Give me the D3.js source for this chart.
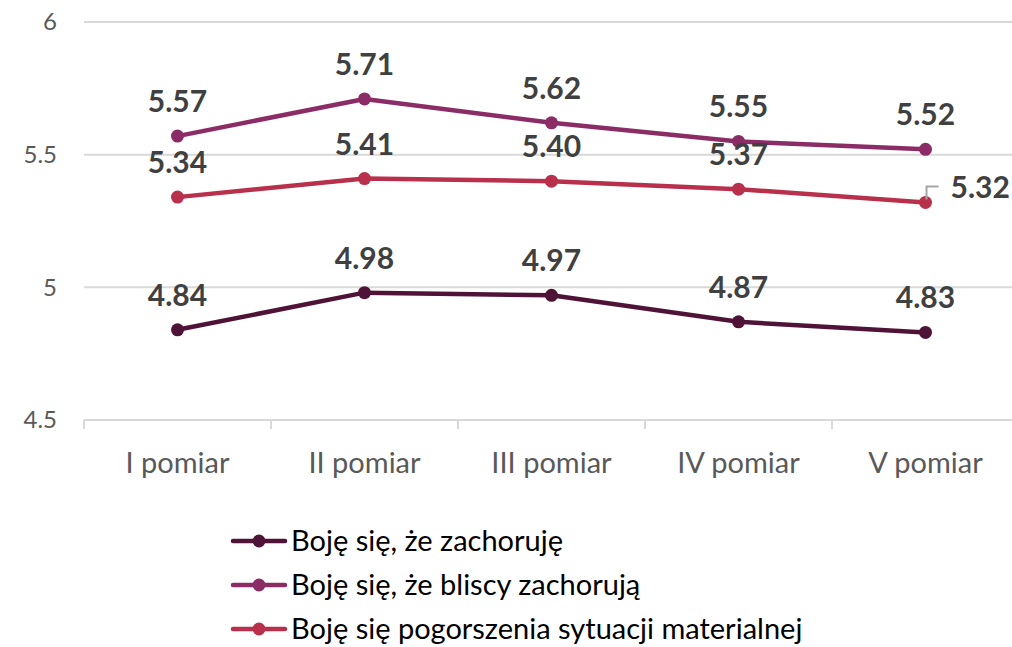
<!DOCTYPE html>
<html>
<head>
<meta charset="utf-8">
<script src="https://cdn.jsdelivr.net/npm/d3@7"></script>
<style>
  body { margin: 0; background: #fff; }
  svg { display: block; font-family: Lato, "Open Sans", sans-serif; }
  .grid line { stroke: #d9d9d9; stroke-width: 2; }
  .y-label { fill: #595959; font-size: 24px; }
  .x-label { fill: #595959; font-size: 29px; }
  .value { fill: #404040; font-size: 30px; font-weight: bold; }
  .legend text { fill: #000; font-size: 29px; }
</style>
</head>
<body>
<div id="chart"></div>
<script>
var categories = ['I pomiar', 'II pomiar', 'III pomiar', 'IV pomiar', 'V pomiar'];
var seriesNames = ['Boję się, że zachoruję', 'Boję się, że bliscy zachorują', 'Boję się pogorszenia sytuacji materialnej'];
var seriesColors = ['#4f1338', '#8c2c66', '#b8304b'];
var zachoruje = [4.84, 4.98, 4.97, 4.87, 4.83];
var bliscy = [5.57, 5.71, 5.62, 5.55, 5.52];
var materialna = [5.34, 5.41, 5.40, 5.37, 5.32];
var yTicks = [4.5, 5, 5.5, 6];

var series = [zachoruje, bliscy, materialna];

var width = 1012, height = 647;
var margin = {left: 84, right: -7, top: 22};

var svg = d3.select('#chart').append('svg')
    .attr('width', width)
    .attr('height', height);

var x = d3.scaleBand()
    .domain(categories)
    .range([margin.left, width - margin.right]);

var y = d3.scaleLinear()
    .domain([4.5, 6])
    .range([420, margin.top]);

// gridlines
svg.append('g')
    .attr('class', 'grid')
    .selectAll('line')
    .data(yTicks)
    .enter().append('line')
    .attr('x1', margin.left)
    .attr('x2', width)
    .attr('y1', function(d) { return y(d); })
    .attr('y2', function(d) { return y(d); });

// category tick marks on the base line
var tickXs = categories.map(function(c) { return x(c); });
svg.append('g')
    .attr('class', 'grid')
    .selectAll('line')
    .data(tickXs)
    .enter().append('line')
    .attr('x1', function(d) { return d; })
    .attr('x2', function(d) { return d; })
    .attr('y1', y(4.5))
    .attr('y2', y(4.5) + 9);

// y tick labels
svg.append('g')
    .selectAll('text')
    .data(yTicks)
    .enter().append('text')
    .attr('class', 'y-label')
    .attr('x', 57)
    .attr('y', function(d) { return y(d); })
    .attr('dy', '0.35em')
    .attr('text-anchor', 'end')
    .text(function(d) { return d; });

// x labels
svg.append('g')
    .selectAll('text')
    .data(categories)
    .enter().append('text')
    .attr('class', 'x-label')
    .attr('x', function(d) { return x(d) + x.bandwidth() / 2; })
    .attr('y', 463)
    .attr('dy', '0.35em')
    .attr('text-anchor', 'middle')
    .text(function(d) { return d; });

var cx = function(d, i) { return x(categories[i]) + x.bandwidth() / 2; };

var line = d3.line()
    .x(function(d, i) { return cx(d, i); })
    .y(function(d) { return y(d); });

series.forEach(function(vals, s) {
    var g = svg.append('g');
    g.append('path')
        .attr('d', line(vals))
        .attr('fill', 'none')
        .attr('stroke', seriesColors[s])
        .attr('stroke-width', 4.5)
        .attr('stroke-linejoin', 'round');
    g.selectAll('circle')
        .data(vals)
        .enter().append('circle')
        .attr('cx', cx)
        .attr('cy', function(d) { return y(d); })
        .attr('r', 6.5)
        .attr('fill', seriesColors[s]);
});

// value labels
series.forEach(function(vals, s) {
    vals.forEach(function(v, i) {
        var px = cx(v, i), py = y(v);
        var isLast = (s === 2 && i === vals.length - 1);
        if (isLast) {
            svg.append('path')
                .attr('d', 'M' + (px + 1) + ',' + (py - 3) + 'V' + (py - 16) + 'H' + (px + 13))
                .attr('fill', 'none')
                .attr('stroke', '#a6a6a6')
                .attr('stroke-width', 2);
            svg.append('text')
                .attr('class', 'value')
                .attr('x', px + 25)
                .attr('y', py - 15)
                .attr('dy', '0.35em')
                .text(v.toFixed(2));
        } else {
            svg.append('text')
                .attr('class', 'value')
                .attr('x', px)
                .attr('y', py - 24)
                .attr('text-anchor', 'middle')
                .text(v.toFixed(2));
        }
    });
});

// legend
var legend = svg.append('g').attr('class', 'legend');
var legendY = [541, 585, 629];
seriesNames.forEach(function(name, s) {
    var row = legend.append('g').attr('transform', 'translate(0,' + legendY[s] + ')');
    row.append('line')
        .attr('x1', 233).attr('x2', 285)
        .attr('stroke', seriesColors[s])
        .attr('stroke-width', 4.5)
        .attr('stroke-linecap', 'round');
    row.append('circle')
        .attr('cx', 259).attr('r', 6.5)
        .attr('fill', seriesColors[s]);
    row.append('text')
        .attr('x', 291)
        .attr('dy', '0.35em')
        .text(name);
});
</script>
</body>
</html>
